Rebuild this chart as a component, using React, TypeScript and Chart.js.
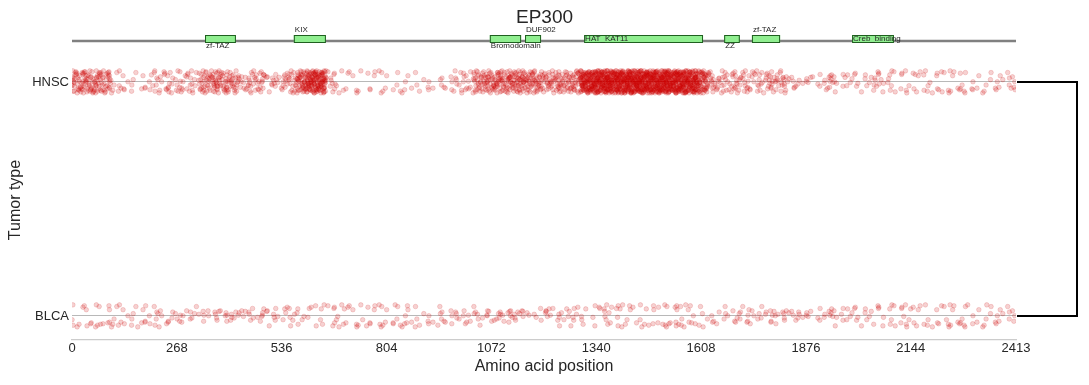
import React, { useEffect, useRef } from 'react';
import { Chart, registerables } from 'chart.js';

Chart.register(...registerables);

const GENE = 'EP300';
const PROTEIN_LENGTH = 2413;
const TUMOR_TYPES = ['HNSC', 'BLCA'];
const TUMOR_Y = [1, 0];
const X_TICKS = [0, 268, 536, 804, 1072, 1340, 1608, 1876, 2144, 2413];
const BIN_WIDTH = 25;

// mutations per 25-aa bin, read from the strip density
const HNSC_COUNTS = [
  30, 34, 32, 28, 7, 5, 4, 6, 10, 12,
  9, 12, 11, 26, 30, 28, 24, 11, 18, 16,
  9, 11, 20, 45, 70, 70, 10, 4, 4, 4,
  5, 4, 3, 4, 4, 4, 4, 3, 5, 9,
  10, 28, 32, 36, 34, 38, 36, 34, 24, 28,
  26, 30, 85, 95, 100, 98, 100, 104, 106, 100,
  104, 98, 95, 90, 55, 18, 16, 15, 14, 12,
  13, 17, 17, 7, 4, 5, 5, 11, 4, 5,
  5, 6, 11, 6, 5, 4, 6, 7, 6, 5,
  6, 4, 5, 5, 5, 4, 5,
];
const BLCA_COUNTS = [
  5, 6, 5, 5, 6, 4, 5, 7, 6, 5,
  4, 5, 6, 5, 4, 6, 5, 5, 6, 7,
  5, 4, 6, 5, 5, 4, 5, 6, 4, 5,
  6, 5, 4, 5, 6, 5, 4, 5, 5, 4,
  6, 7, 5, 6, 7, 6, 5, 4, 6, 5,
  5, 6, 4, 5, 7, 6, 5, 4, 6, 5,
  5, 7, 6, 6, 5, 4, 4, 4, 5, 7,
  6, 7, 5, 4, 5, 4, 5, 6, 5, 4,
  5, 6, 5, 4, 5, 6, 5, 5, 4, 6,
  5, 5, 4, 6, 5, 4, 3,
];

const DOMAIN_NAMES = ['zf-TAZ', 'KIX', 'Bromodomain', 'DUF902', 'HAT_KAT11', 'ZZ', 'zf-TAZ', 'Creb_binding'];
const DOMAIN_STARTS = [340, 567, 1068, 1158, 1309, 1667, 1738, 1994];
const DOMAIN_ENDS = [419, 649, 1148, 1199, 1613, 1707, 1810, 2101];
const DOMAIN_LABEL_POS = ['below', 'above', 'below', 'above', 'inside', 'below', 'above', 'inside'];

// fixed strip-plot jitter table
const JITTER_X = [0.12, 0.67, 0.35, 0.91, 0.04, 0.53, 0.78, 0.22, 0.46, 0.85, 0.09, 0.61, 0.3, 0.97, 0.17, 0.72, 0.41, 0.58, 0.26, 0.83, 0.01, 0.49, 0.75];
const JITTER_Y = [-0.82, 0.35, -0.12, 0.91, -0.55, 0.07, 0.63, -0.97, 0.21, -0.38, 0.78, -0.69, 0.46, -0.04, 0.99, -0.27, 0.15, -0.88, 0.56, -0.47, 0.29, -0.74, 0.84, -0.18, 0.67, -0.61, 0.02, 0.41, -0.33];
const JITTER_AMP = 0.048;

const FONT = "'Liberation Sans', Arial, Helvetica, sans-serif";
const TEXT = '#262626';

function buildPoints(counts: number[], yBase: number) {
  const pts: { x: number; y: number }[] = [];
  counts.forEach((n, i) => {
    const start = i * BIN_WIDTH;
    const width = Math.min(BIN_WIDTH, PROTEIN_LENGTH - start);
    for (let k = 0; k < n; k++) {
      const jx = JITTER_X[(k * 5 + i * 3) % JITTER_X.length];
      const jy = JITTER_Y[(k * 7 + i * 11) % JITTER_Y.length];
      pts.push({ x: start + width * jx, y: yBase + jy * JITTER_AMP });
    }
  });
  return pts;
}

const overlayPlugin = {
  id: 'overlay',
  afterDraw(chart: any) {
    const { ctx, chartArea, scales } = chart;
    const xs = scales.x;
    const ys = scales.y;
    ctx.save();
    // protein track
    const lineY = chartArea.top - 19;
    ctx.strokeStyle = '#808080';
    ctx.lineWidth = 2.6;
    ctx.beginPath();
    ctx.moveTo(xs.getPixelForValue(0), lineY);
    ctx.lineTo(xs.getPixelForValue(PROTEIN_LENGTH), lineY);
    ctx.stroke();
    ctx.font = `8px ${FONT}`;
    ctx.textAlign = 'left';
    ctx.textBaseline = 'middle';
    DOMAIN_NAMES.forEach((name, i) => {
      const x0 = xs.getPixelForValue(DOMAIN_STARTS[i]);
      const x1 = xs.getPixelForValue(DOMAIN_ENDS[i]);
      const top = lineY - 6;
      const bot = lineY + 1;
      ctx.fillStyle = '#90EE90';
      ctx.fillRect(x0, top, x1 - x0, bot - top);
      ctx.strokeStyle = '#1f5f1f';
      ctx.lineWidth = 1;
      ctx.strokeRect(x0 + 0.5, top + 0.5, x1 - x0 - 1, bot - top);
      ctx.fillStyle = TEXT;
      const pos = DOMAIN_LABEL_POS[i];
      const ty = pos === 'above' ? lineY - 11 : pos === 'below' ? lineY + 4.5 : lineY - 2.5;
      ctx.fillText(name, x0 + 1, ty);
    });
    // bracket linking tumor types
    const yTop = ys.getPixelForValue(TUMOR_Y[0]);
    const yBot = ys.getPixelForValue(TUMOR_Y[1]);
    const xr = chartArea.right + 1;
    ctx.strokeStyle = '#000';
    ctx.lineWidth = 2;
    ctx.beginPath();
    ctx.moveTo(xr, yTop);
    ctx.lineTo(xr + 60, yTop);
    ctx.lineTo(xr + 60, yBot);
    ctx.lineTo(xr, yBot);
    ctx.stroke();
    ctx.restore();
  },
};

export default function App() {
  const ref = useRef<HTMLCanvasElement | null>(null);
  useEffect(() => {
    document.body.style.margin = '0';
    if (!ref.current) return;
    const pointStyle = {
      backgroundColor: 'rgba(205,0,0,0.18)',
      borderColor: 'rgba(205,0,0,0.2)',
      borderWidth: 0.8,
      pointRadius: 2.3,
      pointHoverRadius: 2.3,
    };
    const chart = new Chart(ref.current, {
      type: 'scatter',
      data: {
        datasets: [
          { label: TUMOR_TYPES[0], data: buildPoints(HNSC_COUNTS, TUMOR_Y[0]), ...pointStyle },
          { label: TUMOR_TYPES[1], data: buildPoints(BLCA_COUNTS, TUMOR_Y[1]), ...pointStyle },
        ],
      },
      options: {
        animation: false,
        responsive: true,
        maintainAspectRatio: false,
        layout: { padding: 0 },
        plugins: {
          legend: { display: false },
          tooltip: { enabled: false },
          title: {
            display: true,
            text: GENE,
            color: TEXT,
            font: { family: FONT, size: 19, weight: 'normal' },
            padding: { top: 6, bottom: 31.2 },
          },
        },
        scales: {
          x: {
            type: 'linear',
            min: 0,
            max: PROTEIN_LENGTH,
            afterBuildTicks: (s: any) => {
              s.ticks = X_TICKS.map((v) => ({ value: v }));
            },
            afterFit: (s: any) => {
              s.height = 45;
            },
            ticks: {
              autoSkip: false,
              maxRotation: 0,
              color: TEXT,
              padding: 1,
              font: { family: FONT, size: 13 },
              callback: (v: any) => String(v),
            },
            grid: { display: false, drawTicks: false },
            border: { display: true, color: '#cccccc', width: 1.2 },
            title: {
              display: true,
              text: 'Amino acid position',
              color: TEXT,
              font: { family: FONT, size: 16 },
              padding: { top: 0, bottom: 8.4 },
            },
          },
          y: {
            type: 'linear',
            min: -0.1026,
            max: 1.094,
            z: 1,
            afterBuildTicks: (s: any) => {
              s.ticks = TUMOR_Y.map((v) => ({ value: v }));
            },
            afterFit: (s: any) => {
              s.width = 72;
            },
            ticks: {
              color: TEXT,
              padding: 3,
              font: { family: FONT, size: 13 },
              callback: (v: any) => {
                const i = TUMOR_Y.indexOf(Number(v));
                return i >= 0 ? TUMOR_TYPES[i] : '';
              },
            },
            grid: { display: true, drawTicks: false, color: 'rgba(160,160,160,0.75)', lineWidth: 1 },
            border: { display: false },
            title: {
              display: true,
              text: 'Tumor type',
              color: TEXT,
              font: { family: FONT, size: 16 },
              padding: { top: 6.4, bottom: 0 },
            },
          },
          yRight: {
            type: 'linear',
            position: 'right',
            display: true,
            min: 0,
            max: 1,
            afterFit: (s: any) => {
              s.width = 73;
            },
            ticks: { display: false },
            grid: { display: false, drawTicks: false },
            border: { display: false },
          },
        },
      } as any,
      plugins: [overlayPlugin],
    });
    return () => chart.destroy();
  }, []);
  return (
    <div style={{ position: 'relative', width: 1089, height: 385 }}>
      <canvas ref={ref} />
    </div>
  );
}
